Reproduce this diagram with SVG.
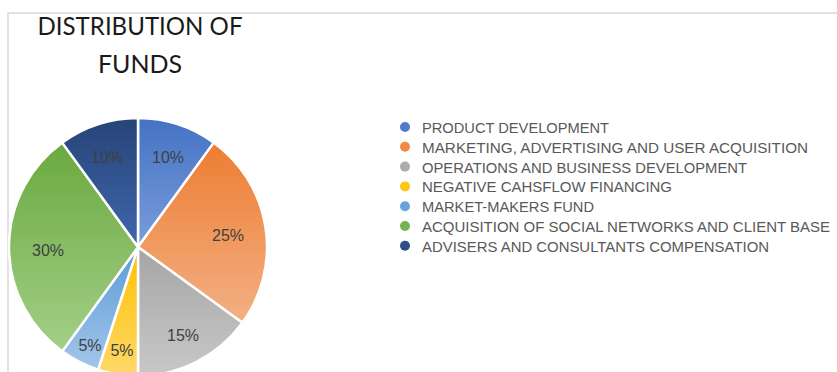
<svg xmlns="http://www.w3.org/2000/svg" width="837" height="372" viewBox="0 0 837 372">
<defs>
<linearGradient id="gBlue" x1="0" y1="0" x2="0" y2="1"><stop offset="0" stop-color="#4472C4"/><stop offset="1" stop-color="#7a9ddb"/></linearGradient>
<linearGradient id="gOrange" x1="0" y1="0" x2="0" y2="1"><stop offset="0" stop-color="#ED7D31"/><stop offset="1" stop-color="#f3b085"/></linearGradient>
<linearGradient id="gGray" x1="0" y1="0" x2="0" y2="1"><stop offset="0" stop-color="#A5A5A5"/><stop offset="1" stop-color="#c8c8c8"/></linearGradient>
<linearGradient id="gYellow" x1="0" y1="0" x2="0" y2="1"><stop offset="0" stop-color="#FFC000"/><stop offset="1" stop-color="#ffd86a"/></linearGradient>
<linearGradient id="gLBlue" x1="0" y1="0" x2="0" y2="1"><stop offset="0" stop-color="#5B9BD5"/><stop offset="1" stop-color="#a3c6ea"/></linearGradient>
<linearGradient id="gGreen" x1="0" y1="0" x2="0" y2="1"><stop offset="0" stop-color="#6aa93f"/><stop offset="1" stop-color="#a3cf87"/></linearGradient>
<linearGradient id="gDBlue" x1="0" y1="0" x2="0" y2="1"><stop offset="0" stop-color="#264478"/><stop offset="1" stop-color="#4066ac"/></linearGradient>
</defs>
<style>
.slice{stroke:#ffffff;stroke-width:2.5;stroke-linejoin:round}
.pct{font-family:"Liberation Sans",Arial,sans-serif;font-size:16px;fill:#404040;text-anchor:middle}
.leg{font-family:"Liberation Sans",Arial,sans-serif;font-size:15.5px;fill:#595959}
.title{font-family:Lato,"Liberation Sans",sans-serif;font-size:25px;fill:#1a1a1a;text-anchor:middle}
.frame{stroke:#d9d9d9;stroke-width:1.5;fill:none}
</style>
<rect width="837" height="372" fill="#ffffff"/>
<path class="frame" d="M8,372 L8,13 L837,13"/>
<g id="title">
<text class="title" x="140" y="35" textLength="205" lengthAdjust="spacingAndGlyphs">DISTRIBUTION OF</text>
<text class="title" x="140" y="73">FUNDS</text>
</g>
<g id="pie">
<g id="slice-product"><path class="slice" fill="url(#gBlue)" d="M138,247 L138,118 A129,129 0 0 1 213.83,142.64 Z"/><text class="pct" x="168" y="163">10%</text></g>
<g id="slice-marketing"><path class="slice" fill="url(#gOrange)" d="M138,247 L213.83,142.64 A129,129 0 0 1 242.36,322.83 Z"/><text class="pct" x="228" y="241">25%</text></g>
<g id="slice-operations"><path class="slice" fill="url(#gGray)" d="M138,247 L242.36,322.83 A129,129 0 0 1 138,376 Z"/><text class="pct" x="183" y="341">15%</text></g>
<g id="slice-negative"><path class="slice" fill="url(#gYellow)" d="M138,247 L138,376 A129,129 0 0 1 98.14,369.69 Z"/><text class="pct" x="122" y="356">5%</text></g>
<g id="slice-market"><path class="slice" fill="url(#gLBlue)" d="M138,247 L98.14,369.69 A129,129 0 0 1 62.17,351.36 Z"/><text class="pct" x="90" y="351">5%</text></g>
<g id="slice-acquisition"><path class="slice" fill="url(#gGreen)" d="M138,247 L62.17,351.36 A129,129 0 0 1 62.17,142.64 Z"/><text class="pct" x="48" y="256">30%</text></g>
<g id="slice-advisers"><path class="slice" fill="url(#gDBlue)" d="M138,247 L62.17,142.64 A129,129 0 0 1 138,118 Z"/><text class="pct" x="107" y="163">10%</text></g>
</g>
<g id="legend">
<g id="leg-product"><circle cx="405" cy="127" r="5" fill="#4f7bcb"/><text class="leg" x="422" y="133" textLength="187" lengthAdjust="spacingAndGlyphs">PRODUCT DEVELOPMENT</text></g>
<g id="leg-marketing"><circle cx="405" cy="146.8" r="5" fill="#ef8a45"/><text class="leg" x="422" y="152.8" textLength="386" lengthAdjust="spacingAndGlyphs">MARKETING, ADVERTISING AND USER ACQUISITION</text></g>
<g id="leg-operations"><circle cx="405" cy="166.6" r="5" fill="#adadad"/><text class="leg" x="422" y="172.6" textLength="325" lengthAdjust="spacingAndGlyphs">OPERATIONS AND BUSINESS DEVELOPMENT</text></g>
<g id="leg-negative"><circle cx="405" cy="186.4" r="5" fill="#ffc61a"/><text class="leg" x="422" y="192.4" textLength="250" lengthAdjust="spacingAndGlyphs">NEGATIVE CAHSFLOW FINANCING</text></g>
<g id="leg-market"><circle cx="405" cy="206.2" r="5" fill="#68a4da"/><text class="leg" x="422" y="212.2" textLength="172" lengthAdjust="spacingAndGlyphs">MARKET-MAKERS FUND</text></g>
<g id="leg-acquisition"><circle cx="405" cy="226" r="5" fill="#78b350"/><text class="leg" x="422" y="232" font-size="14.5" style="font-size:14.5px" textLength="408" lengthAdjust="spacingAndGlyphs">ACQUISITION OF SOCIAL NETWORKS AND CLIENT BASE</text></g>
<g id="leg-advisers"><circle cx="405" cy="245.8" r="5" fill="#2c4e8a"/><text class="leg" x="422" y="251.8" textLength="347" lengthAdjust="spacingAndGlyphs">ADVISERS AND CONSULTANTS COMPENSATION</text></g>
</g>
<g id="connectors"></g>
</svg>
